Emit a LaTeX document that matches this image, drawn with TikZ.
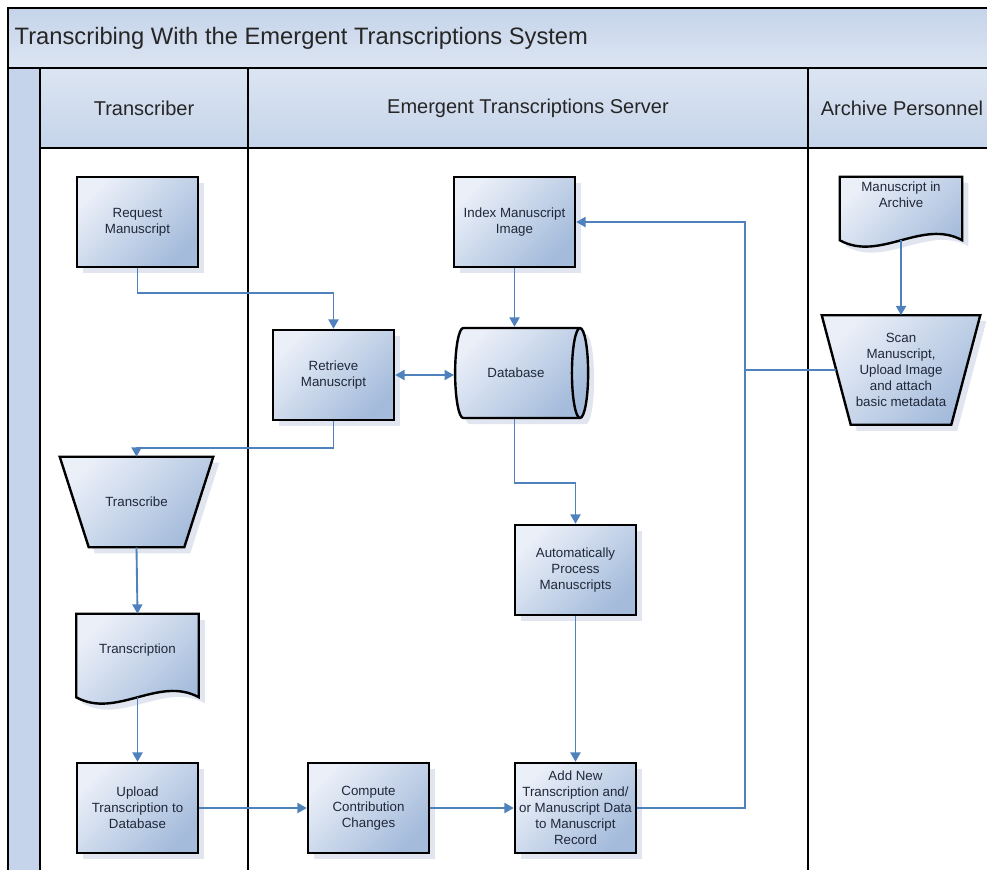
\documentclass[tikz,border=0pt]{standalone}
\usepackage{fontspec}
\setmainfont{Liberation Sans}
\usetikzlibrary{shapes.geometric,shadows,arrows.meta,calc,backgrounds}
\definecolor{et_blue}{RGB}{79,129,189}
\definecolor{et_light}{RGB}{234,239,248}
\definecolor{et_dark}{RGB}{164,187,219}
\definecolor{et_shadow}{RGB}{224,229,240}
\definecolor{et_band}{RGB}{197,212,234}
\definecolor{et_bandlt}{RGB}{220,229,242}
\definecolor{et_text}{RGB}{32,40,58}
\tikzstyle{shaded}=[draw=black,line width=1.8pt,top color=et_light,bottom color=et_dark,
  shading angle=45,drop shadow={shadow xshift=4.5pt,shadow yshift=-4.5pt,fill=et_shadow,opacity=1}]
\tikzstyle{proc}=[shaded,rectangle,minimum width=90.75pt,minimum height=67.5pt,inner sep=1pt,
  align=center,text=et_text,font=\fontsize{10}{12}\selectfont]
\tikzstyle{store}=[proc,cylinder,shape aspect=1.3]
\tikzstyle{docu}=[rectangle,minimum width=91.5pt,inner sep=1pt,align=center,text=et_text,
  font=\fontsize{10}{12}\selectfont]
\tikzstyle{manop}=[docu]
\tikzstyle{hdr}=[rectangle,draw=black,line width=2pt,top color=et_bandlt,bottom color=et_band,
  font=\fontsize{15}{17}\selectfont,text=black!85]
\tikzstyle{lane}=[draw=black,line width=2.2pt]
\tikzstyle{flow}=[draw=et_blue,line width=1.4pt,-{Triangle[width=7.5pt,length=7pt]}]
% document shape: wavy bottom #2 below the node
\newcommand{\docwave}[2]{%
  \coordinate (#1-base) at ($(#1.south)+(0,#2)$);
  \begin{pgfonlayer}{background}
  \path[shaded] (#1.north west) -- (#1.north east) -- (#1.south east |- #1-base)
    .. controls +(-40,-22) and +(40,22) .. (#1.south west |- #1-base) -- cycle;
  \end{pgfonlayer}}
% manual operation: bottom edge pulled in by #2
\newcommand{\mantrap}[2]{%
  \coordinate (#1-w) at ($(#1.west)+(#2/2,0)$);
  \begin{pgfonlayer}{background}
  \path[shaded] (#1.north west) -- (#1.north east) -- ($(#1.south east)+(-#2,0)$)
    -- ($(#1.south west)+(#2,0)$) -- cycle;
  \end{pgfonlayer}}

\begin{document}
\begin{tikzpicture}[x=0.75pt,y=-0.75pt]
    \useasboundingbox (0,0) rectangle (987,869);
    % pool and lanes
    \fill[et_band] (8,68) rectangle (40,880);
    \shade[top color=et_band,bottom color=et_bandlt] (8,8) rectangle (1000,68);
    \node[anchor=west,font=\fontsize{17.8}{20}\selectfont,text=black!85] (title) at (10,38)
        {Transcribing With the Emergent Transcriptions System};
    \node[hdr,minimum width=156pt,minimum height=60pt] (lnA) at (144,108) {Transcriber};
    \node[hdr,minimum width=420pt,minimum height=60pt] (lnB) at (528,108) {Emergent Transcriptions Server};
    \node[hdr,minimum width=141pt,minimum height=60pt] (lnC) at (902,108) {Archive Personnel};
    \draw[lane] (1000,8) -- (8,8) -- (8,880);
    \draw[lane] (8,68) -- (1000,68);
    \draw[lane] (40,68) -- (40,880);
    \draw[lane] (248,148) -- (248,880);
    \draw[lane] (808,148) -- (808,880);
    % steps
    \node[style=proc] (req) at (137.5,222) {Request\\Manuscript};
    \node[style=proc] (idx) at (514.5,222) {Index Manuscript\\Image};
    \node[style=docu,minimum height=27pt] (arc) at (901,195) {Manuscript in\\Archive};
    \docwave{arc}{27}
    \node[style=proc] (ret) at (333.5,375) {Retrieve\\Manuscript};
    \node[style=store,minimum width=67.5pt,minimum height=99.75pt] (db) at (516,373) {Database};
    \node[style=manop,minimum width=118.5pt,minimum height=81.75pt] (scan) at (901,370)
        {Scan\\Manuscript,\\Upload Image\\and attach\\basic metadata};
    \mantrap{scan}{29}
    \node[style=manop,minimum width=114.75pt,minimum height=67.5pt] (tsb) at (136.5,502) {Transcribe};
    \mantrap{tsb}{29}
    \node[style=proc] (auto) at (575.5,570) {Automatically\\Process\\Manuscripts};
    \node[style=docu,minimum height=54pt] (tsn) at (137.5,650) {Transcription};
    \docwave{tsn}{11}
    \node[style=proc] (up) at (137.5,808) {Upload\\Transcription to\\Database};
    \node[style=proc] (cmp) at (368.5,808) {Compute\\Contribution\\Changes};
    \node[style=proc] (add) at (575.5,808) {Add New\\Transcription and/\\or Manuscript Data\\to Manuscript\\Record};
    \coordinate (join) at (745,370);
    % flows
    \draw[flow] (req.south) -- ++(0,25) -| (ret.north);
    \draw[flow] (idx.south) -- (idx.south |- db.north);
    \draw[flow,{Triangle[width=7.5pt,length=7pt]}-{Triangle[width=7.5pt,length=7pt]}] (ret.east) -- (ret.east -| db.west);
    \draw[flow] (idx.south |- db.south) -- ++(0,64) -| (auto.north);
    \draw[flow] (ret.south) -- ++(0,27) -| (tsb.north);
    \draw[flow] (tsb.south) -- (tsn.north);
    \draw[flow] (tsn-base) -- (up.north);
    \draw[flow] (up.east) -- (cmp.west);
    \draw[flow] (cmp.east) -- (add.west);
    \draw[flow] (auto.south) -- (add.north);
    \draw[flow] (add.east) -| (join) |- (idx.east);
    \draw[flow,-] (scan-w) -- (join);
    \draw[flow] (arc-base) -- (scan.north);
\end{tikzpicture}
\end{document}
